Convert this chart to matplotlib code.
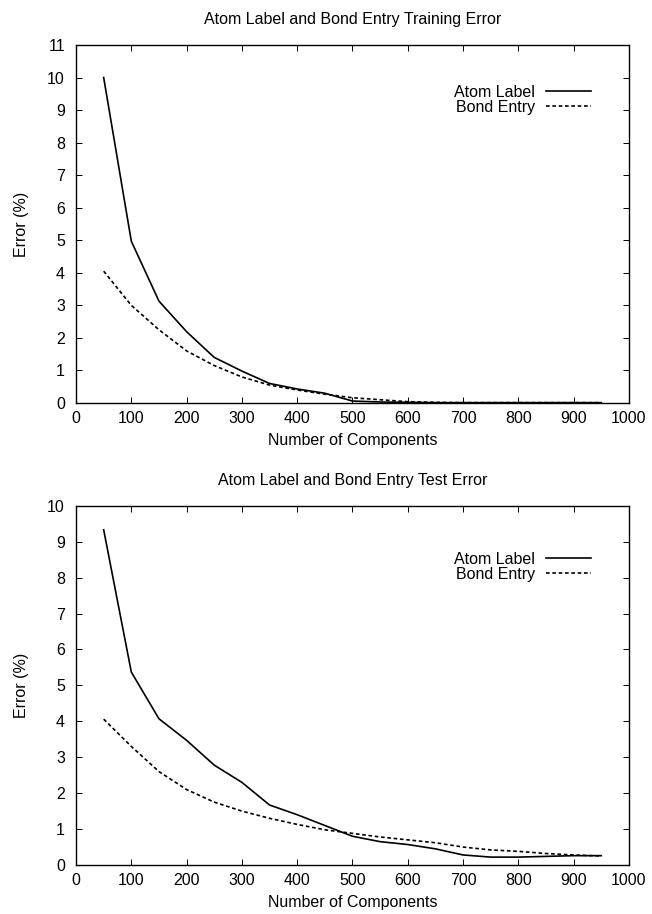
import matplotlib.pyplot as plt
import numpy as np

plt.rcParams['font.family'] = ['Liberation Sans', 'DejaVu Sans']

components = [50, 100, 150, 200, 250, 300, 350, 400, 450, 500,
              550, 600, 650, 700, 750, 800, 850, 900, 950]

train_atom = [10.0, 4.97, 3.13, 2.19, 1.40, 0.98, 0.60, 0.43, 0.30, 0.06,
              0.03, 0.02, 0.01, 0.01, 0.01, 0.01, 0.01, 0.01, 0.01]
train_bond = [4.05, 3.00, 2.25, 1.60, 1.15, 0.80, 0.55, 0.40, 0.27, 0.16,
              0.10, 0.04, 0.02, 0.01, 0.01, 0.01, 0.01, 0.01, 0.01]

test_atom = [9.33, 5.37, 4.07, 3.47, 2.78, 2.30, 1.67, 1.40, 1.10, 0.80,
             0.65, 0.57, 0.45, 0.28, 0.22, 0.22, 0.24, 0.26, 0.26]
test_bond = [4.06, 3.30, 2.60, 2.10, 1.75, 1.50, 1.30, 1.13, 0.98, 0.88,
             0.78, 0.70, 0.62, 0.50, 0.42, 0.38, 0.32, 0.28, 0.25]

x_ticks = [0, 100, 200, 300, 400, 500, 600, 700, 800, 900, 1000]

FS = 11.5

fig = plt.figure(figsize=(6.52, 9.14), dpi=100)
ax1 = fig.add_axes([0.1166, 0.5591, 0.848, 0.3917])
ax2 = fig.add_axes([0.1166, 0.0536, 0.848, 0.3931])

panels = [
    (ax1, train_atom, train_bond, 11, 'Atom Label and Bond Entry Training Error', 0.888),
    (ax2, test_atom, test_bond, 10, 'Atom Label and Bond Entry Test Error', 0.872),
]

for ax, atom, bond, ymax, title, leg_y in panels:
    ax.plot(components, atom, color='black', lw=1.2, label='Atom Label')
    ax.plot(components, bond, color='black', lw=1.2, dashes=(2.2, 1.6),
            label='Bond Entry')
    ax.set_xlim(0, 1000)
    ax.set_ylim(0, ymax)
    ax.set_xticks(x_ticks)
    ax.set_yticks(range(0, ymax + 1))
    ax.tick_params(direction='in', length=4, width=0.7, top=True, right=True,
                   labelsize=FS)
    ax.tick_params(axis='x', pad=6)
    ax.tick_params(axis='y', pad=8)
    for sp in ax.spines.values():
        sp.set_linewidth(1.0)
    ax.set_xlabel('Number of Components', fontsize=FS, labelpad=4.5)
    ax.set_ylabel('Error (%)', fontsize=FS, labelpad=13)
    ax.set_title(title, fontsize=FS, pad=15)
    ax.legend(loc='upper right', bbox_to_anchor=(0.931, leg_y), frameon=False,
              markerfirst=False, fontsize=FS, handlelength=2.8,
              handletextpad=0.7, labelspacing=0.0, borderaxespad=0,
              borderpad=0)

fig.savefig('out.png', dpi=100)
